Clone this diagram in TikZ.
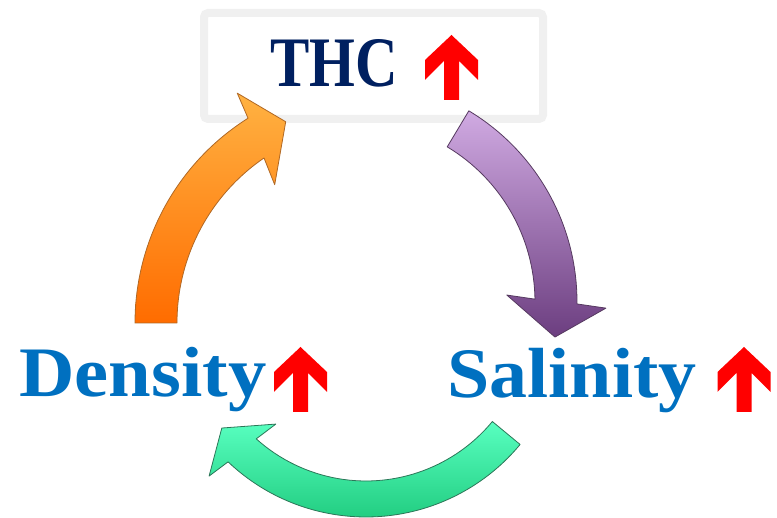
\documentclass[tikz,border=0pt]{standalone}
\usepackage{fontspec}
\usepackage{graphicx}
\setmainfont{Liberation Serif}
\usetikzlibrary{calc}
\definecolor{thcnavy}{RGB}{0,32,96}
\definecolor{labelblue}{RGB}{0,112,192}
\definecolor{upred}{RGB}{255,0,0}
\definecolor{boxgray}{RGB}{240,240,240}
\definecolor{orangetop}{RGB}{255,178,66}
\definecolor{orangebot}{RGB}{255,108,0}
\definecolor{orangeline}{RGB}{176,104,36}
\definecolor{purpletop}{RGB}{208,170,226}
\definecolor{purplebot}{RGB}{108,62,128}
\definecolor{purpleline}{RGB}{86,58,96}
\definecolor{greentop}{RGB}{88,255,192}
\definecolor{greenbot}{RGB}{28,200,122}
\definecolor{greenline}{RGB}{44,118,88}
\tikzset{
  redup/.pic={\fill[upred] (0,0) -- (-26.5,-25) -- (-26.5,-45) -- (-7.5,-26) -- (-7.5,-65) -- (7.5,-65) -- (7.5,-26) -- (26.5,-45) -- (26.5,-25) -- cycle;},
  lbl/.style={font=\fontsize{71}{80}\selectfont\bfseries, inner sep=0pt, anchor=base},
  boxline/.style={draw=boxgray, fill=white, line width=8pt, rounded corners=4pt},
  orangearrow/.style={top color=orangetop, bottom color=orangebot, draw=orangeline, line width=0.8pt, line join=round},
  purplearrow/.style={top color=purpletop, bottom color=purplebot, draw=purpleline, line width=0.8pt, line join=round},
  greenarrow/.style={top color=greentop, bottom color=greenbot, draw=greenline, line width=0.8pt, line join=round}
}
\begin{document}
\begin{tikzpicture}[x=1pt,y=1pt]
\useasboundingbox (0,0) rectangle (777,518);
% THC box
\draw[boxline] (204,505) rectangle (543,399);
\node[lbl, text=thcnavy] (thc) at (334,431) {\scalebox{0.83}[1]{THC}};
\pic (thcup) at (451.5,483) {redup};
% orange arrow (Density -> THC)
\coordinate (oc) at (377,195);
\shadedraw[orangearrow] ($(oc)+(180:242pt)$) arc[start angle=180,end angle=122.2,radius=242pt]
  -- ($(oc)+(121.3:269pt)$) -- ($(oc)+(114.4:221pt)$) -- ($(oc)+(126.5:172pt)$)
  -- ($(oc)+(124.4:200pt)$) arc[start angle=124.4,end angle=180,radius=200pt] -- cycle;
% purple arrow (THC -> Salinity)
\coordinate (pc) at (354,216);
\shadedraw[purplearrow] ($(pc)+(59:223pt)$) arc[start angle=59,end angle=-0.5,radius=223pt]
  -- ($(pc)+(-1.4:252pt)$) -- ($(pc)+(-9.9:204pt)$) -- ($(pc)+(2.6:153pt)$)
  -- ($(pc)+(0.9:181pt)$) arc[start angle=0.9,end angle=59,radius=181pt] -- cycle;
% green arrow (Salinity -> Density)
\coordinate (gc) at (366,201);
\shadedraw[greenarrow] ($(gc)+(-39.6:164pt)$) arc[start angle=-39.6,end angle=-132,radius=164pt]
  -- ($(gc)+(-130.1:140pt)$) -- ($(gc)+(-142.4:182pt)$) -- ($(gc)+(-134.6:223.5pt)$)
  -- ($(gc)+(-133.6:200pt)$) arc[start angle=-133.6,end angle=-39.6,radius=200pt] -- cycle;
% labels
\node[lbl, text=labelblue] (dens) at (143,121) {\scalebox{1.08}[1]{Density}};
\pic (densup) at (300.5,171) {redup};
\node[lbl, text=labelblue] (sal) at (572,120) {\scalebox{1.07}[1]{Salinity}};
\pic (salup) at (744,171) {redup};
\end{tikzpicture}
\end{document}
